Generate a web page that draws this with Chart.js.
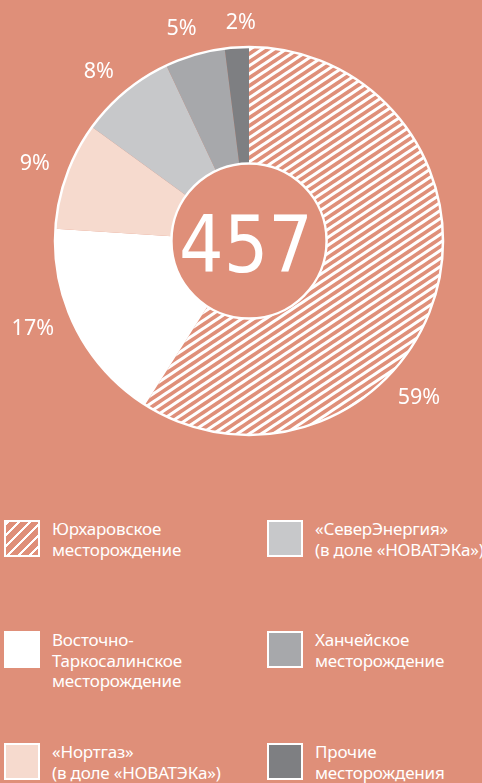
<!DOCTYPE html>
<html lang="ru">
<head>
<meta charset="utf-8">
<title>Запасы газа</title>
<script src="https://cdn.jsdelivr.net/npm/chart.js@4.4.0/dist/chart.umd.min.js"></script>
<style>
  html, body { margin: 0; padding: 0; }
  body { width: 482px; height: 783px; background: #DF8F79; position: relative; overflow: hidden; font-family: "Noto Sans", sans-serif; }
  #wrap { position: absolute; left: 0; top: 0; width: 482px; height: 500px; }
  .item { position: absolute; color: #fff; font-size: 17px; line-height: 20.5px; letter-spacing: -0.2px; white-space: nowrap; }
  .box { position: absolute; width: 36px; height: 37px; box-sizing: border-box; border: 2px solid #fff; }
  .txt { position: absolute; top: 0; }
</style>
</head>
<body>
<div id="wrap"><canvas id="chart" width="482" height="500"></canvas></div>
<div id="legend"></div>
<script>
// data
const labels = [
  'Юрхаровское\nместорождение',
  'Восточно-\nТаркосалинское\nместорождение',
  '«Нортгаз»\n(в доле «НОВАТЭКа»)',
  '«СеверЭнергия»\n(в доле «НОВАТЭКа»)',
  'Ханчейское\nместорождение',
  'Прочие\nместорождения'
];
const shares = [59, 17, 9, 8, 5, 2];
const total = 457;

const BG = '#DF8F79';
const sliceColors = ['hatch', '#FFFFFF', '#F6DACE', '#C7C8CA', '#A7A8AB', '#7E7F82'];

// diagonal white stripes on salmon (about 34 degrees)
function makeHatch() {
  const w = 12, h = 8;
  const c = document.createElement('canvas');
  c.width = w; c.height = h;
  const g = c.getContext('2d');
  g.fillStyle = BG;
  g.fillRect(0, 0, w, h);
  g.strokeStyle = '#fff';
  g.lineWidth = 3.1;
  g.beginPath();
  for (const off of [-h, 0, h]) {
    g.moveTo(-w, 2 * h + off);
    g.lineTo(2 * w, off - h);
  }
  g.stroke();
  return g.createPattern(c, 'repeat');
}

const ctx = document.getElementById('chart').getContext('2d');
const fills = sliceColors.map(c => c === 'hatch' ? makeHatch() : c);

// where along each slice its % label sits (0..1), 59% label is pushed down
const labelAt = [0.625, 0.58, 0.5, 0.43, 0.42, 0.7];

const ringPlugin = {
  id: 'ring',
  afterDatasetsDraw(chart) {
    const arc = chart.getDatasetMeta(0).data[0];
    const { x, y, outerRadius, innerRadius } = arc.getProps(['x', 'y', 'outerRadius', 'innerRadius'], true);
    const c = chart.ctx;
    c.save();
    c.strokeStyle = '#fff';
    c.lineWidth = 2.5;
    c.beginPath(); c.arc(x, y, outerRadius, 0, Math.PI * 2); c.stroke();
    c.beginPath(); c.arc(x, y, innerRadius, 0, Math.PI * 2); c.stroke();

    // centre total
    c.fillStyle = '#fff';
    c.textAlign = 'center';
    c.textBaseline = 'alphabetic';
    c.font = '78px "Liberation Sans Narrow", "DejaVu Sans Condensed", sans-serif';
    c.fillText(String(total), x - 3, y + 31);

    // percentage labels
    c.font = '21.5px "Noto Sans", sans-serif';
    c.textBaseline = 'middle';
    chart.getDatasetMeta(0).data.forEach((a, i) => {
      const p = a.getProps(['startAngle', 'endAngle'], true);
      const ang = p.startAngle + (p.endAngle - p.startAngle) * labelAt[i];
      const txt = shares[i] + '%';
      const hw = c.measureText(txt).width / 2;
      const cs = Math.cos(ang), sn = Math.sin(ang);
      const r = outerRadius + 17 + Math.abs(cs) * hw + Math.abs(sn) * 7;
      c.fillText(txt, x + cs * r, y + sn * r);
    });
    c.restore();
  }
};

new Chart(ctx, {
  type: 'doughnut',
  data: {
    labels: labels,
    datasets: [{
      data: shares,
      backgroundColor: fills,
      borderWidth: 0
    }]
  },
  options: {
    responsive: false,
    animation: false,
    cutout: '40%',
    layout: { padding: { left: 55, right: 39, top: 47, bottom: 65 } },
    plugins: {
      legend: { display: false },
      tooltip: { enabled: false }
    }
  },
  plugins: [ringPlugin]
});

// html legend, two columns
const legendPos = [
  { x: 4, y: 520 }, { x: 4, y: 631 }, { x: 4, y: 743 },
  { x: 267, y: 520 }, { x: 267, y: 631 }, { x: 267, y: 743 }
];
const legend = document.getElementById('legend');
labels.forEach((lab, i) => {
  const pos = legendPos[i];
  const item = document.createElement('div');
  item.className = 'item';
  item.style.left = pos.x + 'px';
  item.style.top = pos.y + 'px';
  const box = document.createElement('div');
  box.className = 'box';
  box.style.left = '0px';
  box.style.top = '0px';
  if (sliceColors[i] === 'hatch') {
    box.style.background = 'repeating-linear-gradient(135deg, #fff 0 2.6px, ' + BG + ' 2.6px 7.8px)';
  } else {
    box.style.background = sliceColors[i];
  }
  const t = document.createElement('div');
  t.className = 'txt';
  t.style.left = '48px';
  t.style.top = '-1px';
  t.innerHTML = lab.split('\n').join('<br>');
  item.appendChild(box);
  item.appendChild(t);
  legend.appendChild(item);
});
</script>
</body>
</html>
